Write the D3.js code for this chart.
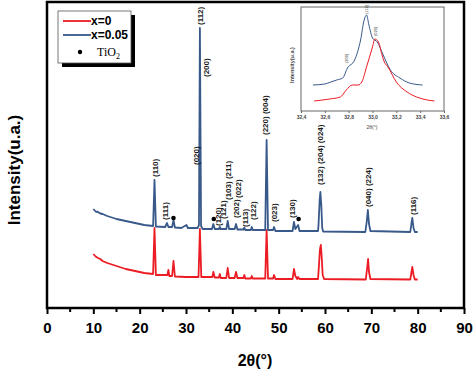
<!DOCTYPE html>
<html>
<head>
<meta charset="utf-8">
<script src="https://cdn.jsdelivr.net/npm/d3@7"></script>
<style>
    body { margin: 0; background: #fff; }
    svg { display: block; font-family: Arial, "Liberation Sans", sans-serif; }
</style>
</head>
<body>
<svg width="474" height="370"></svg>
<script>
// main pattern, x = 0.05 (upper trace) : [2theta, intensity]
var blueData = [
    [10, 990], [10.5, 965], [11, 960], [11.5, 945], [12, 940], [13, 920], [14, 905], [15, 890], [17, 870], [19, 850],
    [21, 830], [22.9, 820], [23.2, 1280], [23.5, 815], [25.5, 810], [25.9, 850], [26.2, 810],
    [27.0, 810], [27.3, 880], [27.6, 805], [29, 800], [30.1, 830], [30.4, 800], [32.5, 800],
    [32.8, 830], [33.0, 2800], [33.25, 820], [33.6, 790], [35.6, 790], [35.9, 840], [36.2, 790],
    [37.1, 790], [37.3, 810], [37.5, 790], [38.7, 790], [39.0, 870], [39.3, 790], [40.5, 790],
    [40.8, 840], [41.1, 785], [42.4, 785], [42.6, 805], [42.8, 780], [44.0, 780], [44.2, 810],
    [44.4, 780], [47.1, 780], [47.4, 1680], [47.7, 780], [48.8, 780], [49.0, 810], [49.3, 770],
    [53.0, 770], [53.3, 860], [53.6, 790], [54.2, 830], [54.5, 770], [58.5, 770], [58.6, 830],
    [58.85, 1080], [59.0, 1160], [59.2, 1030], [59.4, 800], [59.6, 765], [68.7, 760], [69.0, 860],
    [69.25, 980], [69.5, 840], [69.8, 770], [78.4, 760], [78.7, 860], [78.85, 900], [79.1, 800],
    [79.4, 760], [80, 760]
];

// main pattern, x = 0 (lower trace)
var redData = [
    [10, 540], [10.5, 515], [11, 500], [11.5, 490], [12, 470], [13, 450], [15, 420], [17, 390], [19, 370], [21, 350],
    [22.9, 340], [23.2, 800], [23.5, 330], [26.0, 330], [26.2, 380], [26.4, 320], [27.0, 320],
    [27.3, 470], [27.6, 315], [30, 310], [32.7, 310], [33.0, 790], [33.3, 310], [35.7, 310],
    [35.9, 360], [36.2, 305], [37.1, 305], [37.3, 340], [37.5, 300], [38.7, 300], [39.0, 400],
    [39.3, 300], [40.5, 300], [40.8, 360], [41.1, 300], [42.4, 300], [42.6, 330], [42.8, 295],
    [44.0, 295], [44.2, 320], [44.4, 295], [47.1, 295], [47.4, 780], [47.7, 295], [48.8, 295],
    [49.0, 330], [49.3, 290], [53.0, 290], [53.3, 390], [53.6, 320], [54.0, 290], [54.2, 310],
    [54.5, 290], [58.5, 290], [58.7, 430], [58.9, 580], [59.1, 630], [59.3, 500], [59.5, 330],
    [59.8, 290], [68.8, 285], [69.1, 400], [69.3, 490], [69.5, 360], [69.8, 290], [78.4, 285],
    [78.7, 370], [78.85, 410], [79.1, 330], [79.4, 285], [80, 285]
];

// hkl labels : [text, 2theta, intensity at label foot]
var peakLabels = [
    ["(110)", 23.3, 1310], ["(111)", 25.5, 880], ["(020)", 32.2, 1430], ["(200)", 34.3, 2310],
    ["(112)", 33.0, 2830], ["(120)", 37.0, 820], ["(121)", 38.0, 890], ["(103) (211)", 39.1, 1080],
    ["(202)", 40.8, 900], ["(022)", 41.3, 1100], ["(113)", 42.7, 810], ["(122)", 44.5, 880],
    ["(220) (004)", 47.05, 1730], ["(023)", 49.0, 860], ["(130)", 52.9, 900],
    ["(132) (204) (024)", 58.9, 1230], ["(040) (224)", 69.3, 1010], ["(116)", 79.0, 930]
];

// TiO2 reflections : [2theta, intensity]
var tio2Marks = [[27.3, 900], [36.0, 890], [54.3, 890]];

var xTicks = [0, 10, 20, 30, 40, 50, 60, 70, 80, 90];

// inset : zoom on the main peak near 33 degrees
var insetBlue = [
    [32.50, 26], [32.60, 27], [32.65, 29], [32.70, 31], [32.75, 33], [32.79, 43], [32.85, 51],
    [32.90, 71], [32.93, 91], [32.95, 96], [32.97, 86], [33.00, 73], [33.04, 69], [33.09, 56],
    [33.15, 41], [33.23, 33], [33.31, 28], [33.42, 26]
];
var insetRed = [
    [32.51, 10], [32.64, 12], [32.73, 14], [32.78, 21], [32.83, 26], [32.88, 26], [32.91, 29],
    [32.95, 44], [33.00, 64], [33.02, 72], [33.05, 69], [33.08, 56], [33.10, 49], [33.13, 44],
    [33.20, 29], [33.29, 19], [33.37, 14], [33.46, 11], [33.52, 10]
];
var insetLabels = [["(112)", 32.95, 97], ["(200)", 32.78, 48], ["(020)", 33.03, 75]];
var insetTicks = [32.4, 32.6, 32.8, 33.0, 33.2, 33.4, 33.6];

var blueColor = "#38598a",
    redColor = "#ec1c24";

var svg = d3.select("svg");

var x = d3.scaleLinear().domain([0, 90]).range([47, 464]);
var y = d3.scaleLinear().domain([0, 3060]).range([308, 2]);

var line = d3.line()
    .x((d) => x(d[0]))
    .y((d) => y(d[1]));

// traces
svg.append("path")
    .datum(redData)
    .attr("d", line)
    .style("fill", "none")
    .style("stroke", redColor)
    .style("stroke-width", 1.8)
    .style("stroke-linejoin", "round");

svg.append("path")
    .datum(blueData)
    .attr("d", line)
    .style("fill", "none")
    .style("stroke", blueColor)
    .style("stroke-width", 1.8)
    .style("stroke-linejoin", "round");

// hkl labels
svg.selectAll(".hkl")
    .data(peakLabels)
    .enter()
    .append("text")
    .attr("class", "hkl")
    .attr("transform", (d) => "translate(" + x(d[1]) + "," + y(d[2]) + ") rotate(-90)")
    .attr("dy", "0.35em")
    .style("font-size", "8px")
    .style("font-weight", "bold")
    .style("fill", "#1a1a1a")
    .text((d) => d[0]);

svg.selectAll(".tio2")
    .data(tio2Marks)
    .enter()
    .append("circle")
    .attr("cx", (d) => x(d[0]))
    .attr("cy", (d) => y(d[1]))
    .attr("r", 2.3)
    .style("fill", "#000");

// frame
svg.append("rect")
    .attr("x", 47)
    .attr("y", 2)
    .attr("width", 417)
    .attr("height", 306)
    .style("fill", "none")
    .style("stroke", "#000")
    .style("stroke-width", 2.5);

// x axis
var xAxis = svg.append("g").attr("transform", "translate(0,308)");
xAxis.call(d3.axisBottom(x).tickValues(xTicks).tickSize(6).tickFormat(d3.format("d")));
xAxis.select(".domain").remove();
xAxis.selectAll(".tick line").style("stroke-width", 2);
xAxis.selectAll(".tick text")
    .attr("y", 14)
    .style("font-size", "15px")
    .style("font-weight", "bold")
    .style("font-family", "Arial, 'Liberation Sans', sans-serif");

svg.selectAll(".minor")
    .data(xTicks.slice(0, -1))
    .enter()
    .append("line")
    .attr("x1", (d) => x(d + 5))
    .attr("x2", (d) => x(d + 5))
    .attr("y1", 308)
    .attr("y2", 312)
    .style("stroke", "#000")
    .style("stroke-width", 2);

svg.append("text")
    .attr("x", 255)
    .attr("y", 366)
    .attr("text-anchor", "middle")
    .style("font-size", "16px")
    .style("font-weight", "bold")
    .text("2θ(°)");

svg.append("text")
    .attr("transform", "translate(20,170) rotate(-90)")
    .attr("text-anchor", "middle")
    .style("font-size", "17px")
    .style("font-weight", "bold")
    .text("Intensity(u.a.)");

// legend
var legend = svg.append("g");
legend.append("rect")
    .attr("x", 62).attr("y", 15).attr("width", 73).attr("height", 52)
    .style("fill", "#000");
legend.append("rect")
    .attr("x", 58).attr("y", 11).attr("width", 73).attr("height", 52)
    .style("fill", "#fff")
    .style("stroke", "#555")
    .style("stroke-width", 0.8);

var legendItems = [["x=0", redColor], ["x=0.05", blueColor]];
legendItems.forEach((d, i) => {
    legend.append("line")
        .attr("x1", 63).attr("x2", 91)
        .attr("y1", 21 + i * 14).attr("y2", 21 + i * 14)
        .style("stroke", d[1])
        .style("stroke-width", 1.8);
    legend.append("text")
        .attr("x", 91)
        .attr("y", 25 + i * 14)
        .style("font-size", "12px")
        .style("font-weight", "bold")
        .text(d[0]);
});
legend.append("circle").attr("cx", 80).attr("cy", 52).attr("r", 2.2).style("fill", "#000");
var tio2Text = legend.append("text")
    .attr("x", 97)
    .attr("y", 56)
    .style("font-family", "'Liberation Serif', 'Times New Roman', serif")
    .style("font-size", "12px");
tio2Text.append("tspan").text("TiO");
tio2Text.append("tspan").attr("dy", 3).style("font-size", "8px").text("2");

// inset
var ix = d3.scaleLinear().domain([32.4, 33.6]).range([301, 444]);
var iy = d3.scaleLinear().domain([0, 104]).range([111, 7]);
var iline = d3.line()
    .curve(d3.curveMonotoneX)
    .x((d) => ix(d[0]))
    .y((d) => iy(d[1]));

var inset = svg.append("g");
inset.append("rect")
    .attr("x", 301).attr("y", 7).attr("width", 143).attr("height", 104)
    .style("fill", "#fff")
    .style("stroke", "#666")
    .style("stroke-width", 1);

inset.append("path")
    .datum(insetBlue)
    .attr("d", iline)
    .style("fill", "none")
    .style("stroke", blueColor)
    .style("stroke-width", 1);

inset.append("path")
    .datum(insetRed)
    .attr("d", iline)
    .style("fill", "none")
    .style("stroke", redColor)
    .style("stroke-width", 1);

inset.selectAll(".ilab")
    .data(insetLabels)
    .enter()
    .append("text")
    .attr("transform", (d) => "translate(" + ix(d[1]) + "," + iy(d[2]) + ") rotate(-90)")
    .attr("dy", "0.35em")
    .style("font-size", "4px")
    .style("fill", "#333")
    .text((d) => d[0]);

var ixAxis = inset.append("g").attr("transform", "translate(0,111)");
ixAxis.call(d3.axisBottom(ix).tickValues(insetTicks).tickSize(2)
    .tickFormat((d) => d3.format(".1f")(d).replace(".", ",")));
ixAxis.select(".domain").remove();
ixAxis.selectAll(".tick line").style("stroke", "#666");
ixAxis.selectAll(".tick text")
    .attr("y", 4)
    .style("font-size", "5px")
    .style("font-weight", "bold")
    .style("fill", "#444");

inset.append("text")
    .attr("x", 372)
    .attr("y", 129)
    .attr("text-anchor", "middle")
    .style("font-size", "5px")
    .style("fill", "#444")
    .text("2θ(°)");

inset.append("text")
    .attr("transform", "translate(292,65) rotate(-90)")
    .attr("text-anchor", "middle")
    .attr("dy", "0.35em")
    .style("font-size", "5.5px")
    .style("font-weight", "bold")
    .style("fill", "#444")
    .text("Intensity(u.a.)");
</script>
</body>
</html>
